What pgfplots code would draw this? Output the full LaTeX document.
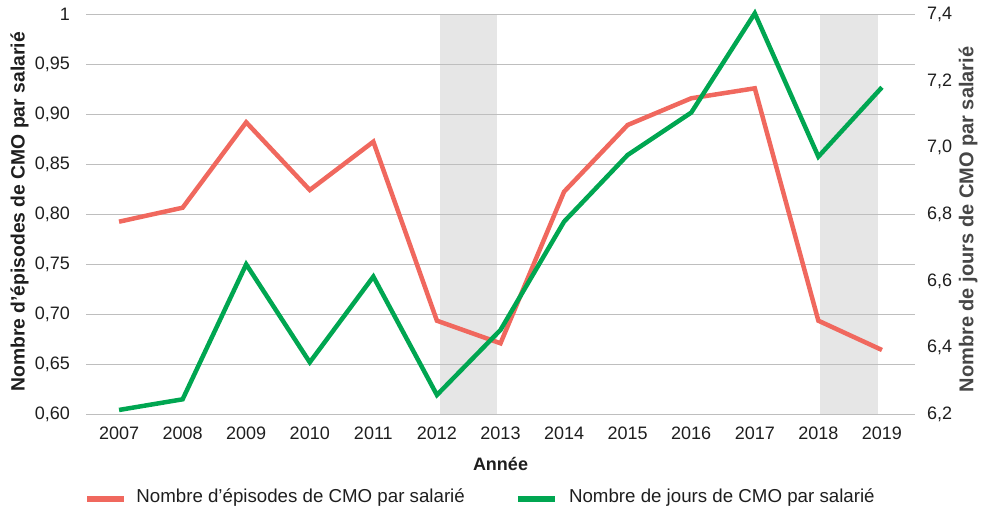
\documentclass[border=0pt]{standalone}
\usepackage{pgfplots}
\pgfplotsset{compat=1.18}
\usepackage{fontspec}
\setmainfont{Liberation Sans}
\definecolor{cred}{RGB}{240,104,94}
\definecolor{cgreen}{RGB}{0,166,81}
\definecolor{shade}{RGB}{230,230,230}
\definecolor{gridc}{RGB}{190,190,190}
\definecolor{tickc}{RGB}{30,30,30}
\definecolor{rlab}{RGB}{70,70,70}
\newcommand{\tf}{\fontsize{18bp}{21bp}\selectfont}
\newcommand{\lf}{\fontsize{19.3bp}{22bp}\selectfont\bfseries}
\newcommand{\rf}{\fontsize{20bp}{23bp}\selectfont\bfseries}
\begin{document}
\begin{tikzpicture}
\begin{axis}[
  set layers,
  scale only axis,
  width=829bp, height=400bp,
  xmin=2006.48, xmax=2019.52,
  ymin=0.6, ymax=1,
  clip=false,
  axis line style={draw=none},
  tick style={draw=none},
  xtick={2007,2008,...,2019},
  xticklabels={2007,2008,2009,2010,2011,2012,2013,2014,2015,2016,2017,2018,2019},
  ytick={0.6,0.65,0.7,0.75,0.8,0.85,0.9,0.95,1},
  yticklabels={{0,60},{0,65},{0,70},{0,75},{0,80},{0,85},{0,90},{0,95},{1}},
  ymajorgrids,
  grid style={gridc, line width=0.8bp},
  xticklabel style={font=\tf, text=tickc, inner sep=0pt, anchor=north},
  xticklabel shift=12bp,
  yticklabel style={font=\tf, text=tickc, inner sep=0pt, anchor=east},
  yticklabel shift=16bp,
  xlabel={Année},
  every axis x label/.style={at={(axis description cs:0.5,0)}, anchor=north, yshift=-43bp, inner sep=0pt, font=\fontsize{18bp}{21bp}\selectfont\bfseries, text=tickc},
  ylabel={Nombre d'épisodes de CMO par salarié},
  every axis y label/.style={at={(axis description cs:-0.0802,0.506)}, anchor=center, rotate=90, inner sep=0pt, font=\lf, text=tickc},
]
\addplot[on layer=axis background, fill=shade, draw=none] coordinates {(2012.05,0.6) (2012.95,0.6) (2012.95,1) (2012.05,1)} -- cycle;
\addplot[on layer=axis background, fill=shade, draw=none] coordinates {(2018.02,0.6) (2018.94,0.6) (2018.94,1) (2018.02,1)} -- cycle;
\addplot[cred, line width=4.5bp] coordinates {
(2007,0.7926) (2008,0.8066) (2009,0.8920) (2010,0.8243) (2011,0.8726) (2012,0.6936) (2013,0.6710)
(2014,0.8226) (2015,0.8893) (2016,0.9160) (2017,0.9260) (2018,0.6936) (2019,0.6643)};
\end{axis}
\begin{axis}[
  scale only axis,
  width=829bp, height=400bp,
  xmin=2006.48, xmax=2019.52,
  ymin=6.2, ymax=7.4,
  clip=false,
  axis x line=none,
  axis y line*=right,
  axis line style={draw=none},
  tick style={draw=none},
  ytick={6.2,6.4,6.6,6.8,7.0,7.2,7.4},
  yticklabels={{6,2},{6,4},{6,6},{6,8},{7,0},{7,2},{7,4}},
  yticklabel style={font=\tf, text=tickc, inner sep=0pt, anchor=west},
  yticklabel shift=12bp,
  ylabel={Nombre de jours de CMO par salarié},
  every axis y label/.style={at={(axis description cs:1.064,0.487)}, anchor=center, rotate=90, inner sep=0pt, font=\rf, text=rlab},
  legend columns=2,
  legend style={draw=none, fill=none, at={(axis description cs:-0.0024,-0.2055)}, anchor=west, inner sep=0pt, font=\fontsize{18.7bp}{21bp}\selectfont, text=tickc,
    /tikz/every even column/.append style={column sep=48bp}},
  legend image code/.code={\draw[#1, line width=6bp] (0bp,-2bp) -- (37bp,-2bp); \path (47bp,0bp);},
  legend cell align=left,
]
\addlegendimage{cred}
\addlegendentry{Nombre d’épisodes de CMO par salarié}
\addplot[cgreen, line width=4.5bp] coordinates {
(2007,6.213) (2008,6.245) (2009,6.650) (2010,6.356) (2011,6.613) (2012,6.258) (2013,6.453)
(2014,6.778) (2015,6.978) (2016,7.105) (2017,7.403) (2018,6.973) (2019,7.181)};
\addlegendentry{Nombre de jours de CMO par salarié}
\end{axis}
\pgfresetboundingbox
\path[use as bounding box] (-86bp,-94.7bp) rectangle (900bp,414.3bp);
\end{tikzpicture}
\end{document}
